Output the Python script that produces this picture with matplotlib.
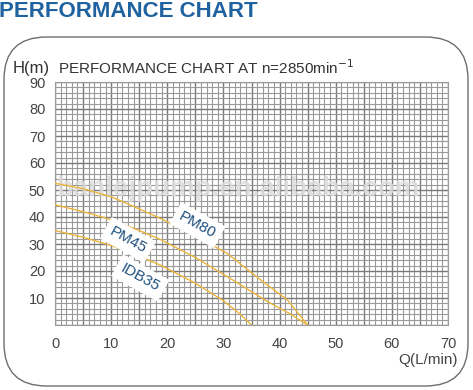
import matplotlib
matplotlib.use("Agg")
import matplotlib.pyplot as plt
import numpy as np
from matplotlib.patches import FancyBboxPatch

# Data
flow_pm80 = [0, 5, 10, 15, 18.75, 25, 30.7, 36.6, 41.4, 45]
head_pm80 = [52.5, 50.5, 47.5, 43, 39.5, 33, 26.5, 16.7, 9.3, 0]
flow_pm45 = [0, 5, 10, 15, 18.75, 25, 31.8, 38, 42, 45]
head_pm45 = [44.5, 42, 39, 35, 31.7, 25, 16.5, 8.5, 4, 0]
flow_idb35 = [0, 5, 10, 15, 18.75, 25, 30, 33, 35]
head_idb35 = [35, 32.5, 29.5, 25.5, 22.2, 15.5, 9, 4, 0]
x_ticks = [0, 10, 20, 30, 40, 50, 60, 70]
y_ticks = [10, 20, 30, 40, 50, 60, 70, 80, 90]

W, H = 473, 390
fig = plt.figure(figsize=(W / 100, H / 100), dpi=100)
fig.patch.set_facecolor("white")

def fx(px):
    return px / W

def fy(py):
    return 1 - py / H

# rounded frame
frame = FancyBboxPatch((fx(4), fy(386)), fx(464), (386 - 37) / H,
                       boxstyle="round,pad=0,rounding_size=0.09",
                       transform=fig.transFigure, fill=False,
                       edgecolor="#6e6e6e", linewidth=1.0,
                       mutation_aspect=W / H)
fig.patches.append(frame)

# main title
fig.text(fx(-1), fy(17), "PERFORMANCE CHART", fontsize=16, fontweight="bold",
         color="#1f62a0", family="Liberation Sans", ha="left", va="baseline")

ax = fig.add_axes([fx(55), fy(325), (448 - 55) / W, (325 - 82) / H])
ax.set_xlim(0, 70)
ax.set_ylim(0, 90)

# grid
for q in range(0, 71):
    major = q % 5 == 0
    ax.axvline(q, color="#7a7a7a" if major else "#9a9a9a",
               lw=1.0 if major else 0.8, zorder=1)
for h in range(0, 91, 2):
    major = h % 10 == 0
    ax.axhline(h, color="#7a7a7a" if major else "#9a9a9a",
               lw=1.0 if major else 0.8, zorder=1)
for s in ax.spines.values():
    s.set_color("#9a9a9a")
    s.set_linewidth(0.8)

# watermark
ax.text(0.2, 50.5, "banlejpump.en.alibaba.com", fontsize=20, fontweight="bold",
        color="#dcdcdc", alpha=0.85, ha="left", va="center", zorder=2,
        family="Liberation Sans")

curve_color = "#ecb53c"
ax.plot(flow_pm80, head_pm80, color=curve_color, lw=1.0, zorder=3)
ax.plot(flow_pm45, head_pm45, color=curve_color, lw=1.0, zorder=3)
ax.plot(flow_idb35, head_idb35, color=curve_color, lw=1.0, zorder=3)

bbox = dict(boxstyle="square,pad=0.35", facecolor="white", edgecolor="none")
lab_kw = dict(fontsize=11, color="#1d4f7e", ha="center", va="center",
              rotation=-29, rotation_mode="anchor", bbox=bbox, zorder=4,
              family="Liberation Sans")
ax.text(25.4, 37.0, "PM80", **lab_kw)
ax.text(13.0, 31.5, "PM45", **lab_kw)
ax.text(15.2, 17.4, "IDB35", **lab_kw)

ax.set_xticks(x_ticks)
ax.set_yticks(y_ticks)
ax.tick_params(length=0, labelsize=10.5, labelcolor="#444444")
ax.tick_params(axis="y", pad=7)
ax.tick_params(axis="x", pad=9)
for lbl in ax.get_xticklabels() + ax.get_yticklabels():
    lbl.set_family("Liberation Sans")

fig.text(fx(13), fy(73), "H(m)", fontsize=12, color="#333333", ha="left",
         va="baseline", family="Liberation Sans")
fig.text(fx(58), fy(74), "PERFORMANCE CHART AT n=2850min$^{-1}$", fontsize=11,
         color="#333333", ha="left", va="baseline", family="Liberation Sans")
fig.text(fx(458), fy(364), "Q(L/min)", fontsize=11, color="#444444", ha="right",
         va="baseline", family="Liberation Sans")

fig.savefig("out.png", dpi=100)
